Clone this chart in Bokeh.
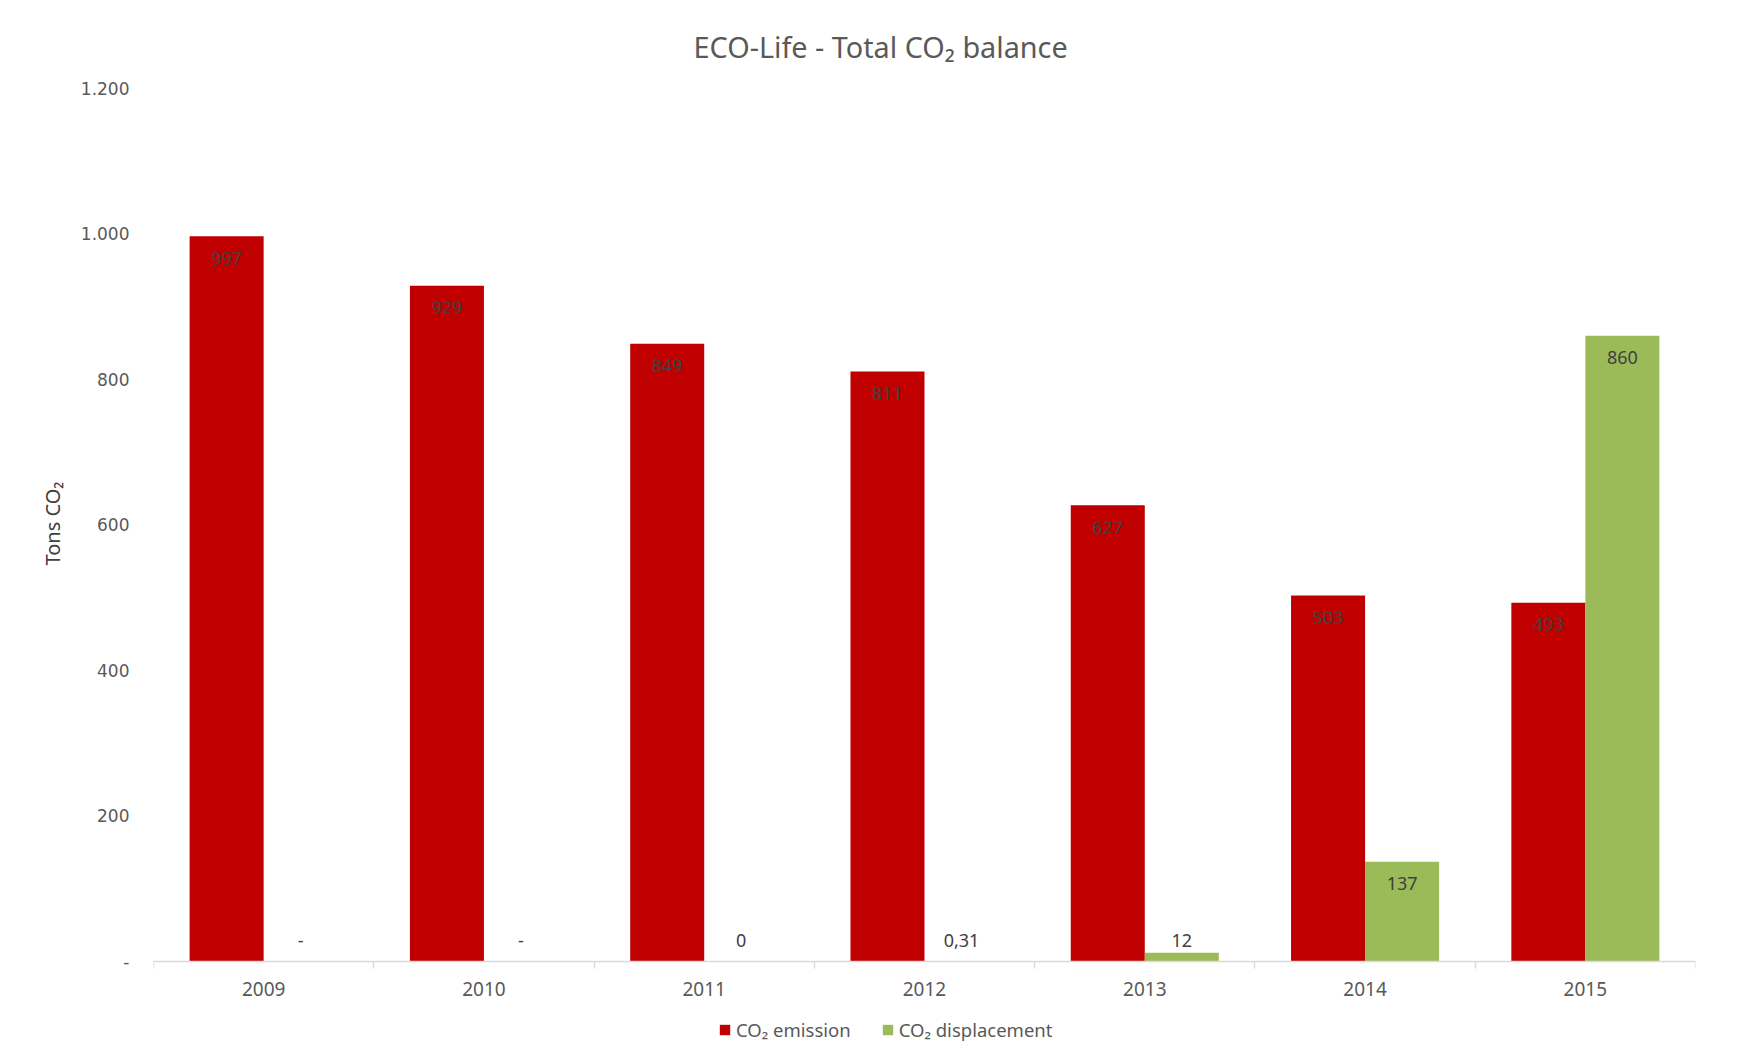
import numpy as np
from bokeh.plotting import figure
from bokeh.models import (ColumnDataSource, Range1d, FixedTicker, LinearAxis,
                          Legend, LegendItem, Title)
from bokeh.core.properties import value
from bokeh.embed import file_html
from bokeh.resources import INLINE

# ---- data ----
years = ["2009", "2010", "2011", "2012", "2013", "2014", "2015"]
emission = [997, 929, 849, 811, 627, 503, 493]
displacement = [0, 0, 0, 0.31, 12, 137, 860]
emission_labels = ["997", "929", "849", "811", "627", "503", "493"]
displacement_labels = ["-", "-", "0", "0,31", "12", "137", "860"]
y_ticks = [0, 200, 400, 600, 800, 1000, 1200]
y_tick_labels = ["-", "200", "400", "600", "800", "1.000", "1.200"]

RED = "#C00000"
GREEN = "#9BBB59"
TXT = "#404040"

idx = np.arange(len(years))
bw = 0.336
off = bw / 2

def label_y(vals):
    return [max(v - 30, 29) for v in vals]

src_e = ColumnDataSource(dict(x=idx - off, top=emission, ly=label_y(emission),
                              lab=emission_labels))
src_d = ColumnDataSource(dict(x=idx + off, top=displacement, ly=label_y(displacement),
                              lab=displacement_labels))

# frame extends below the value axis to hold axis labels and legend
p = figure(width=1754, height=1061, output_backend="svg", toolbar_location=None,
           x_range=Range1d(-0.5, len(years) - 0.5), y_range=Range1d(-137.5, 1200),
           min_border_left=153, min_border_right=59, min_border_top=88,
           min_border_bottom=0, x_axis_type=None, y_axis_type=None)
p.outline_line_color = None
p.background_fill_color = "white"
p.border_fill_color = "white"

p.title.text = "ECO-Life - Total CO\u2082 balance"
p.title.text_font = "Noto Sans"
p.title.text_font_size = "28.8px"
p.title.text_font_style = "normal"
p.title.text_color = "#595959"
p.title.align = "left"
p.title.offset = 540
p.title.standoff = 46

r1 = p.vbar(x="x", top="top", width=bw, source=src_e, fill_color=RED,
            line_color=None)
r2 = p.vbar(x="x", top="top", width=bw, source=src_d, fill_color=GREEN,
            line_color=None)

for s in (src_e, src_d):
    p.text(x="x", y="ly", text="lab", source=s, text_font=value("Noto Sans"),
           text_font_size="18px", text_color=TXT, text_align="center",
           text_baseline="middle")

# y axis
yaxis = LinearAxis(ticker=FixedTicker(ticks=y_ticks))
yaxis.major_label_overrides = {t: l for t, l in zip(y_ticks, y_tick_labels)}
yaxis.axis_line_color = None
yaxis.major_tick_line_color = None
yaxis.minor_tick_line_color = None
yaxis.major_label_text_font = "DejaVu Sans"
yaxis.major_label_text_font_size = "17px"
yaxis.major_label_text_color = "#595959"
yaxis.major_label_standoff = 18
p.add_layout(yaxis, "left")

ytitle = Title(text="Tons CO\u2082", text_font="Noto Sans", text_font_size="20px",
               text_font_style="normal", text_color="#404040", align="left",
               offset=496, standoff=24)
p.add_layout(ytitle, "left")

# x axis (fixed at value 0)
xaxis = LinearAxis(ticker=FixedTicker(ticks=list(idx),
                                      minor_ticks=list(np.arange(len(years) + 1) - 0.5)),
                   fixed_location=0)
xaxis.major_label_overrides = {int(i): y for i, y in zip(idx, years)}
xaxis.axis_line_color = "#d9d9d9"
xaxis.axis_line_width = 1.5
xaxis.major_tick_line_color = None
xaxis.minor_tick_line_color = "#d9d9d9"
xaxis.minor_tick_line_width = 1.5
xaxis.minor_tick_in = 0
xaxis.minor_tick_out = 7
xaxis.major_label_text_font = "Noto Sans"
xaxis.major_label_text_font_size = "19px"
xaxis.major_label_text_color = "#595959"
xaxis.major_label_standoff = 14
p.add_layout(xaxis, "below")

p.ygrid.grid_line_color = "#d9d9d9"
p.ygrid.ticker = FixedTicker(ticks=y_ticks)
p.xgrid.grid_line_color = None

legend = Legend(items=[LegendItem(label="CO\u2082 emission", renderers=[r1]),
                       LegendItem(label="CO\u2082 displacement", renderers=[r2])],
                orientation="horizontal", location=(565, 19))
legend.label_text_font = "Noto Sans"
legend.label_text_font_size = "18.5px"
legend.label_text_color = "#595959"
legend.glyph_width = 13
legend.glyph_height = 13
legend.label_standoff = 5
legend.spacing = 30
legend.border_line_color = None
legend.background_fill_alpha = 0
p.add_layout(legend, "center")

open("out.html", "w").write(file_html(p, INLINE))
